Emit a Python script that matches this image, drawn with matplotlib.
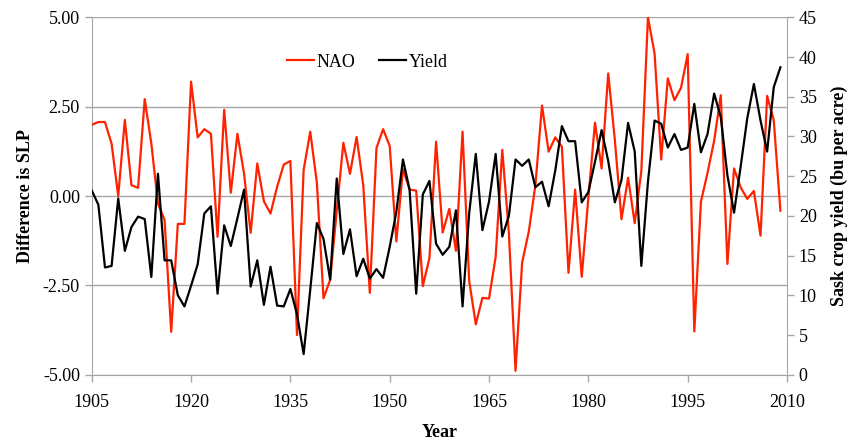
import matplotlib
matplotlib.use("Agg")
import matplotlib.pyplot as plt
from matplotlib.ticker import FormatStrFormatter, MultipleLocator

#%% DATA

years = list(range(1905, 2010))

nao = [1.99, 2.07, 2.07, 1.46, 0.00, 2.13, 0.30, 0.23, 2.71, 1.47,
       -0.21, -0.67, -3.80, -0.78, -0.78, 3.20, 1.64, 1.87, 1.74, -1.14,
       2.41, 0.09, 1.74, 0.63, -1.03, 0.91, -0.15, -0.49, 0.26, 0.88,
       0.98, -3.89, 0.73, 1.80, 0.37, -2.86, -2.35, -0.42, 1.49, 0.62,
       1.65, 0.31, -2.71, 1.34, 1.87, 1.40, -1.27, 0.75, 0.18, 0.15,
       -2.52, -1.74, 1.52, -1.02, -0.36, -1.53, 1.80, -2.37, -3.59, -2.85,
       -2.87, -1.70, 1.29, -1.04, -4.89, -1.86, -1.00, 0.30, 2.53, 1.24,
       1.64, 1.38, -2.15, 0.18, -2.26, -0.05, 2.05, 0.77, 3.43, 1.57,
       -0.65, 0.51, -0.76, 0.70, 5.00, 3.99, 1.02, 3.29, 2.68, 3.03,
       3.97, -3.79, -0.16, 0.65, 1.55, 2.82, -1.90, 0.77, 0.24, -0.08,
       0.14, -1.11, 2.80, 2.12, -0.41]

yield_bu = [23.2, 21.4, 13.5, 13.7, 22.2, 15.6, 18.6, 19.9, 19.6, 12.3,
            25.3, 14.4, 14.4, 10.0, 8.6, 11.2, 13.9, 20.3, 21.2, 10.2,
            18.8, 16.2, 19.7, 23.3, 11.1, 14.4, 8.8, 13.6, 8.7, 8.6,
            10.8, 7.6, 2.6, 10.7, 19.1, 17.1, 12.0, 24.7, 15.2, 18.3,
            12.4, 14.6, 12.1, 13.3, 12.2, 16.1, 20.5, 27.1, 23.3, 10.2,
            22.7, 24.4, 16.5, 15.1, 16.1, 20.7, 8.6, 20.3, 27.8, 18.2,
            21.8, 27.8, 17.4, 20.0, 27.1, 26.3, 27.1, 23.6, 24.3, 21.2,
            25.7, 31.3, 29.4, 29.4, 21.7, 23.0, 26.8, 30.8, 26.9, 21.7,
            24.5, 31.7, 28.1, 13.7, 24.3, 32.0, 31.6, 28.6, 30.3, 28.3,
            28.6, 34.1, 28.0, 30.3, 35.4, 32.4, 25.1, 20.4, 26.2, 32.3,
            36.6, 32.0, 28.1, 36.2, 38.7]

x_ticks = [1905, 1920, 1935, 1950, 1965, 1980, 1995, 2010]

#%% FIGURE

plt.rcParams['font.family'] = ['Liberation Serif', 'DejaVu Serif']
grey = "#a6a6a6"

fig = plt.figure(figsize=(8.51, 4.41), dpi=100)
ax = fig.add_axes([0.1078, 0.1503, 0.8170, 0.8105])
ax2 = ax.twinx()

l1, = ax.plot(years, nao, color="#ff2200", lw=1.6, label="NAO", zorder=3)
l2, = ax2.plot(years, yield_bu, color="black", lw=1.6, label="Yield", zorder=3)

ax.set_xlim(1905, 2010)
ax.set_ylim(-5, 5)
ax2.set_ylim(0, 45)

ax.set_xticks(x_ticks)
ax.yaxis.set_major_locator(MultipleLocator(2.5))
ax.yaxis.set_major_formatter(FormatStrFormatter('%.2f'))
ax2.yaxis.set_major_locator(MultipleLocator(5))

ax.grid(axis="y", color=grey, lw=1)
ax.set_axisbelow(True)

for a in (ax, ax2):
    for s in a.spines.values():
        s.set_visible(False)
    a.tick_params(colors=grey, labelcolor="black", labelsize=13, length=5, width=1)
ax.tick_params(axis="x", pad=9)
ax.spines["left"].set_visible(True)
ax.spines["left"].set_color(grey)
ax.spines["bottom"].set_visible(True)
ax.spines["bottom"].set_color(grey)
ax2.spines["right"].set_visible(True)
ax2.spines["right"].set_color(grey)

ax.set_xlabel("Year", fontsize=13, fontweight="bold", labelpad=9)
ax.set_ylabel("Difference is SLP", fontsize=13, fontweight="bold", labelpad=6)
ax2.set_ylabel("Sask crop yield (bu per acre)", fontsize=13, fontweight="bold", labelpad=10)

fig.legend(handles=[l1, l2], loc="center", bbox_to_anchor=(0.432, 0.859), ncol=2,
           frameon=False, fontsize=13, handlelength=1.5, columnspacing=1.3,
           handletextpad=0.15)

plt.savefig("out.png", dpi=100)
